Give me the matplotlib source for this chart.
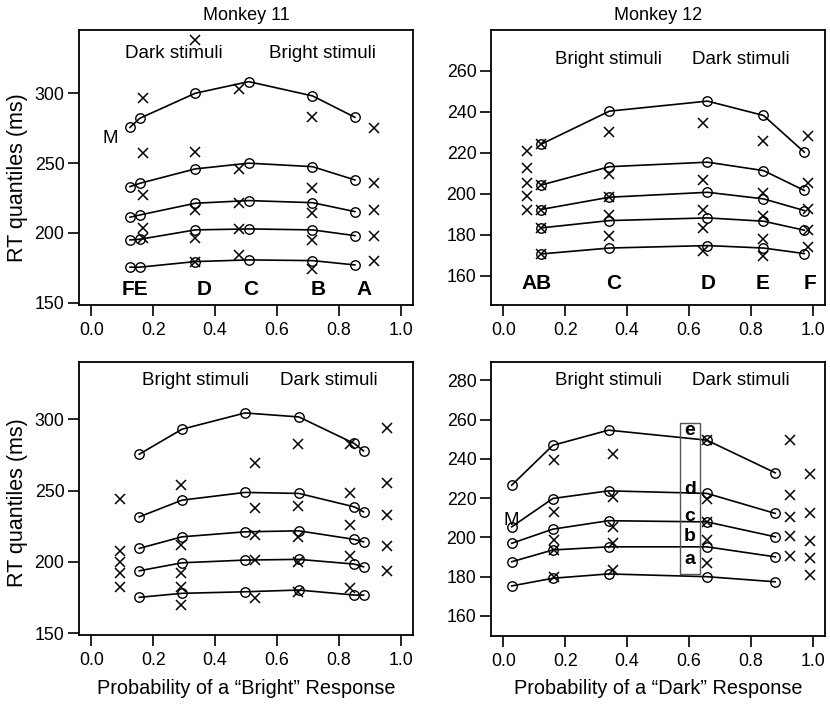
import matplotlib
matplotlib.use("Agg")
import matplotlib.pyplot as plt
from matplotlib.patches import Rectangle

plt.rcParams['font.family'] = ['Liberation Sans', 'DejaVu Sans']

# ---------------- Monkey 11, dark/bright stimuli (top-left) ----------------
m11a_model_x = [0.125, 0.157, 0.336, 0.509, 0.715, 0.852]
m11a_model_q90 = [275.6, 282.1, 300.0, 308.3, 298.1, 282.8]
m11a_model_q70 = [233.1, 235.5, 245.8, 249.9, 247.4, 237.9]
m11a_model_q50 = [211.2, 212.8, 221.2, 223.1, 221.6, 215.2]
m11a_model_q30 = [194.9, 195.4, 202.1, 202.8, 202.1, 198.0]
m11a_model_q10 = [175.4, 175.4, 179.4, 180.6, 180.1, 177.0]
m11a_data_x = [0.168, 0.336, 0.477, 0.715, 0.913]
m11a_data = [
    [296.4, 257.0, 227.1, 203.3, 196.0],
    [338.2, 258.2, 216.4, 196.1, 179.4],
    [302.9, 245.6, 221.2, 202.8, 184.2],
    [282.8, 232.0, 214.5, 194.9, 173.9],
    [274.9, 236.0, 216.4, 198.0, 180.1],
]
m11a_letters = ["FE", "D", "C", "B", "A"]
m11a_letter_x = [0.141, 0.365, 0.515, 0.733, 0.883]

# ---------------- Monkey 12, bright/dark stimuli (top-right) ----------------
m12a_model_x = [0.121, 0.343, 0.660, 0.841, 0.973]
m12a_model_q90 = [224.2, 240.4, 245.3, 238.3, 220.4]
m12a_model_q70 = [204.3, 213.3, 215.5, 211.4, 201.7]
m12a_model_q50 = [192.4, 198.4, 200.8, 197.6, 191.9]
m12a_model_q30 = [183.4, 187.0, 188.3, 186.7, 182.3]
m12a_model_q10 = [170.7, 173.6, 174.8, 173.6, 170.9]
m12a_data_x = [0.078, 0.121, 0.343, 0.645, 0.839, 0.984]
m12a_data = [
    [220.9, 212.8, 205.3, 198.9, 192.4],
    [224.2, 204.3, 192.4, 183.4, 170.7],
    [230.2, 209.5, 198.4, 189.9, 179.3],
    [234.8, 207.0, 192.4, 183.4, 172.0],
    [225.8, 200.5, 189.4, 178.0, 169.5],
    [228.2, 205.1, 192.7, 182.6, 174.1],
]
m12a_letters = ["AB", "C", "D", "E", "F"]
m12a_letter_x = [0.108, 0.357, 0.663, 0.839, 0.992]

# ---------------- Monkey 11, second set (bottom-left) ----------------
m11b_model_x = [0.155, 0.293, 0.497, 0.671, 0.850, 0.880]
m11b_model_q90 = [275.5, 293.0, 304.4, 301.6, 283.0, 277.8]
m11b_model_q70 = [231.6, 243.3, 248.7, 248.0, 238.6, 235.1]
m11b_model_q50 = [209.5, 217.6, 221.1, 221.8, 215.8, 214.1]
m11b_model_q30 = [193.8, 199.4, 201.3, 201.8, 198.5, 196.6]
m11b_model_q10 = [175.2, 178.0, 179.1, 180.3, 176.8, 176.8]
m11b_data_x = [0.093, 0.290, 0.528, 0.668, 0.837, 0.956]
m11b_data = [
    [243.8, 207.8, 200.1, 192.0, 182.6],
    [253.8, 211.8, 192.0, 182.6, 169.8],
    [269.0, 237.5, 218.8, 201.3, 174.5],
    [282.5, 239.1, 217.2, 200.1, 179.1],
    [282.5, 248.0, 225.8, 204.1, 181.5],
    [293.9, 255.0, 232.8, 211.1, 193.8],
]

# ---------------- Monkey 12, second set (bottom-right) ----------------
m12b_model_x = [0.027, 0.160, 0.340, 0.658, 0.879]
m12b_model_q90 = [226.6, 246.9, 254.6, 249.5, 232.9]
m12b_model_q70 = [205.4, 219.8, 223.7, 222.4, 212.2]
m12b_model_q50 = [197.0, 204.2, 208.5, 207.9, 200.3]
m12b_model_q30 = [187.6, 193.6, 195.2, 195.2, 190.1]
m12b_model_q10 = [175.3, 179.2, 181.4, 180.0, 177.4]
m12b_data_x = [0.165, 0.354, 0.658, 0.926, 0.993]
m12b_data = [
    [239.3, 213.0, 198.6, 193.6, 180.0],
    [242.4, 220.7, 205.1, 197.0, 183.4],
    [249.5, 219.8, 207.9, 198.6, 186.8],
    [249.8, 221.5, 210.5, 200.7, 190.5],
    [232.2, 212.5, 198.3, 189.3, 180.8],
]
m12b_quantile_letters = ["e", "d", "c", "b", "a"]
m12b_quantile_letter_y = [254.6, 224.4, 210.5, 200.3, 188.5]

W, H = 830, 704
fig = plt.figure(figsize=(W / 100, H / 100), dpi=100)


def axes_px(x0, y0, x1, y1):
    return fig.add_axes([x0 / W, 1 - y1 / H, (x1 - x0) / W, (y1 - y0) / H])


ax_tl = axes_px(79, 30, 413, 305)
ax_tr = axes_px(491, 30, 825, 305)
ax_bl = axes_px(79, 362, 413, 635)
ax_br = axes_px(491, 362, 825, 636)

FS_TICK = 12.8
FS_IN = 13.5
FS_LET = 15
FS_YLAB = 15.5
FS_XLAB = 14.3


def draw(ax, mx, qs, dx, dd):
    for q in qs:
        ax.plot(mx, q, color='black', lw=1.2, marker='o', ms=6.8,
                mfc='none', mec='black', mew=1.0, zorder=3)
    for x, vals in zip(dx, dd):
        ax.plot([x] * len(vals), vals, ls='none', marker='x', ms=6.5,
                mec='black', mew=1.1, zorder=4)


def style(ax, ylim, yticks):
    ax.set_xlim(-0.04, 1.04)
    ax.set_ylim(*ylim)
    ax.set_xticks([0.0, 0.2, 0.4, 0.6, 0.8, 1.0])
    ax.set_xticklabels(["0.0", "0.2", "0.4", "0.6", "0.8", "1.0"])
    ax.set_yticks(yticks)
    ax.tick_params(direction='out', length=8, width=1.2, labelsize=FS_TICK,
                   colors='black')
    ax.tick_params(axis='y', pad=2.5)
    ax.tick_params(axis='x', pad=4)
    for s in ax.spines.values():
        s.set_linewidth(1.3)


draw(ax_tl, m11a_model_x,
     [m11a_model_q90, m11a_model_q70, m11a_model_q50, m11a_model_q30, m11a_model_q10],
     m11a_data_x, m11a_data)
style(ax_tl, (148.3, 345.3), [150, 200, 250, 300])
ax_tl.text(0.266, 328.7, "Dark stimuli", ha='center', va='center', fontsize=FS_IN)
ax_tl.text(0.747, 328.7, "Bright stimuli", ha='center', va='center', fontsize=FS_IN)
ax_tl.text(0.060, 267.8, "M", ha='center', va='center', fontsize=FS_IN)
for lab, x in zip(m11a_letters, m11a_letter_x):
    ax_tl.text(x, 159.1, lab, ha='center', va='center', fontsize=FS_LET, fontweight='bold')

draw(ax_tr, m12a_model_x,
     [m12a_model_q90, m12a_model_q70, m12a_model_q50, m12a_model_q30, m12a_model_q10],
     m12a_data_x, m12a_data)
style(ax_tr, (145.8, 280.0), [160, 180, 200, 220, 240, 260])
ax_tr.text(0.339, 265.7, "Bright stimuli", ha='center', va='center', fontsize=FS_IN)
ax_tr.text(0.769, 265.7, "Dark stimuli", ha='center', va='center', fontsize=FS_IN)
for lab, x in zip(m12a_letters, m12a_letter_x):
    ax_tr.text(x, 156.5, lab, ha='center', va='center', fontsize=FS_LET, fontweight='bold')

draw(ax_bl, m11b_model_x,
     [m11b_model_q90, m11b_model_q70, m11b_model_q50, m11b_model_q30, m11b_model_q10],
     m11b_data_x, m11b_data)
style(ax_bl, (148.8, 340.1), [150, 200, 250, 300])
ax_bl.text(0.336, 327.3, "Bright stimuli", ha='center', va='center', fontsize=FS_IN)
ax_bl.text(0.768, 327.3, "Dark stimuli", ha='center', va='center', fontsize=FS_IN)

draw(ax_br, m12b_model_x,
     [m12b_model_q90, m12b_model_q70, m12b_model_q50, m12b_model_q30, m12b_model_q10],
     m12b_data_x, m12b_data)
style(ax_br, (149.8, 289.3), [160, 180, 200, 220, 240, 260, 280])
ax_br.text(0.339, 280.0, "Bright stimuli", ha='center', va='center', fontsize=FS_IN)
ax_br.text(0.769, 280.0, "Dark stimuli", ha='center', va='center', fontsize=FS_IN)
ax_br.text(0.027, 208.5, "M", ha='center', va='center', fontsize=FS_IN)
ax_br.add_patch(Rectangle((0.571, 181.6), 0.065, 76.4, fill=False,
                          edgecolor='#555555', lw=1.0, zorder=5))
for lab, y in zip(m12b_quantile_letters, m12b_quantile_letter_y):
    ax_br.text(0.603, y, lab, ha='center', va='center', fontsize=14,
               fontweight='bold', zorder=6)


def ftext(px, py, s, **kw):
    fig.text(px / W, 1 - py / H, s, ha='center', va='center', **kw)


ftext(246, 15, "Monkey 11", fontsize=13)
ftext(658, 15, "Monkey 12", fontsize=13)
ftext(17, 178, "RT quantiles (ms)", fontsize=FS_YLAB, rotation=90)
ftext(17, 503, "RT quantiles (ms)", fontsize=FS_YLAB, rotation=90)
ftext(246, 688, "Probability of a \u201cBright\u201d Response", fontsize=FS_XLAB)
ftext(658, 688, "Probability of a \u201cDark\u201d Response", fontsize=FS_XLAB)

fig.savefig("out.png", dpi=100)
